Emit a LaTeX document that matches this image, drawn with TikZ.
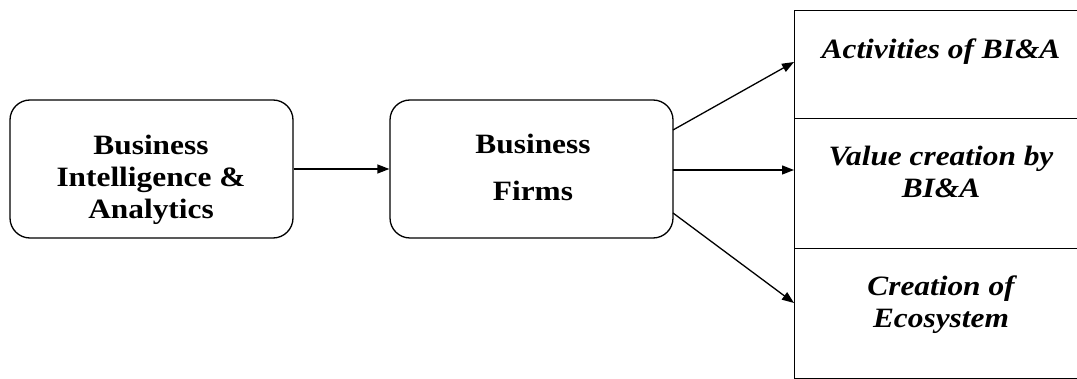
\documentclass[tikz,border=0pt]{standalone}
\usepackage{fontspec}
\setmainfont{Liberation Serif}
\newfontfamily\widefont[FakeStretch=1.12]{Liberation Serif}
\usetikzlibrary{arrows.meta}
\begin{document}
\begin{tikzpicture}[x=1pt,y=-1pt,
  rbox/.style={draw,line width=1.3pt,rounded corners=20pt,minimum width=283pt,minimum height=138pt,inner sep=0pt},
  sbox/.style={draw,line width=1.3pt,inner sep=0pt},
  btxt/.style={align=center,inner sep=0pt,font=\widefont\fontsize{28}{32}\selectfont\bfseries},
  itxt/.style={align=center,inner sep=0pt,font=\widefont\fontsize{28}{32}\selectfont\bfseries\itshape},
  arr/.style={line width=1.3pt,-{Triangle[length=12pt,width=9pt]}}]
\useasboundingbox (0,0) rectangle (1077,379);
\node[rbox] (bia) at (151.5,169) {};
\node[rbox] (bf) at (531.5,169) {};
\node[btxt] (biat) at (151,179.5) {Business\\Intelligence \&\\Analytics};
\node[btxt,font=\widefont\fontsize{28}{47}\selectfont\bfseries] (bft) at (533,167) {Business\\Firms};
\node[sbox,minimum width=290pt,minimum height=108pt,anchor=north west] (r1) at (794,10) {};
\node[sbox,minimum width=290pt,minimum height=130pt,anchor=north west] (r2) at (794,118) {};
\node[sbox,minimum width=290pt,minimum height=130pt,anchor=north west] (r3) at (794,248) {};
\node[itxt] (t1) at (941,51.5) {Activities of BI\&A};
\node[itxt] (t2) at (941,171.5) {Value creation by\\BI\&A};
\node[itxt] (t3) at (941,304.5) {Creation of\\Ecosystem};
\coordinate (a1) at (794,62);
\coordinate (a2) at (794,170);
\coordinate (a3) at (794,303);
\coordinate (s1) at (673,130);
\coordinate (s2) at (673,170);
\coordinate (s3) at (673,213);
\draw[arr] (bia.east) -- (bf.west);
\draw[arr] (s1) -- (a1);
\draw[arr] (s2) -- (a2);
\draw[arr] (s3) -- (a3);
\end{tikzpicture}
\end{document}
